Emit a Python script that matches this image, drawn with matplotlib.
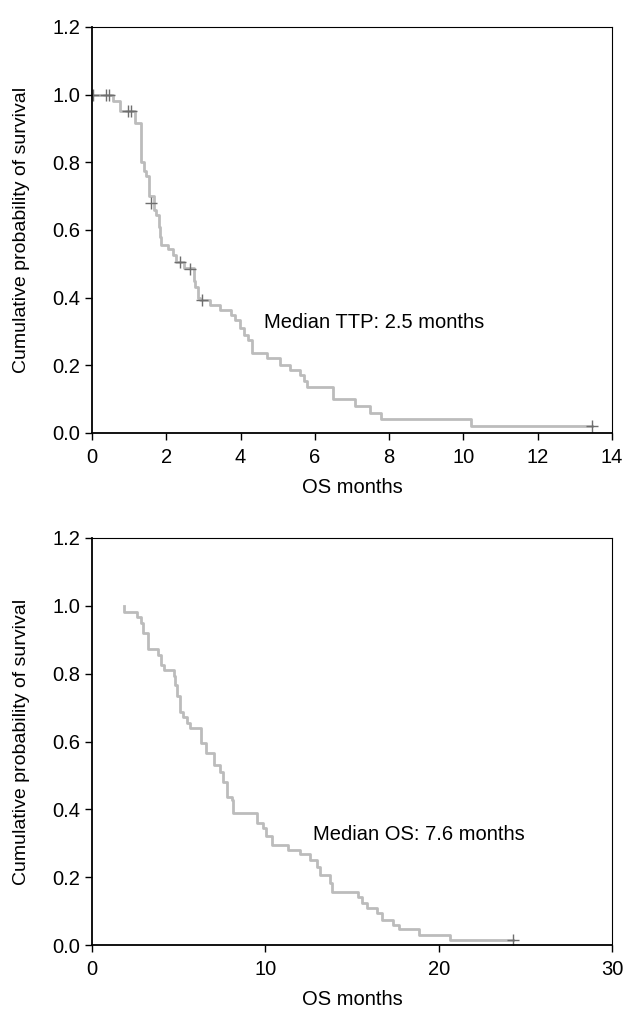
import matplotlib
matplotlib.use("Agg")
import matplotlib.pyplot as plt

plt.rcParams['font.family'] = ['Liberation Sans', 'DejaVu Sans']

# top panel: time to progression (KM steps)
ttp_t = [0, 0.56, 0.76, 1.17, 1.31, 1.33, 1.40, 1.46, 1.54, 1.66, 1.72, 1.80, 1.84, 1.87,
         2.05, 2.18, 2.25, 2.49, 2.74, 2.78, 2.85, 2.90, 3.17, 3.44, 3.75, 3.85, 3.98,
         4.10, 4.20, 4.32, 4.71, 5.05, 5.32, 5.60, 5.72, 5.80, 6.49, 7.07, 7.48, 7.78,
         10.2, 13.45]
ttp_s = [1.0, 0.98, 0.951, 0.917, 0.90, 0.80, 0.775, 0.76, 0.70, 0.66, 0.645, 0.61, 0.58, 0.555,
         0.545, 0.526, 0.506, 0.487, 0.45, 0.43, 0.40, 0.393, 0.378, 0.362, 0.348, 0.333, 0.309,
         0.29, 0.275, 0.235, 0.221, 0.20, 0.186, 0.17, 0.155, 0.137, 0.10, 0.08, 0.06, 0.04,
         0.02, 0.02]
ttp_cens_t = [0.02, 0.38, 0.47, 0.97, 1.06, 1.60, 2.36, 2.65, 2.95, 13.45]
ttp_cens_s = [1.0, 1.0, 1.0, 0.951, 0.951, 0.679, 0.506, 0.484, 0.393, 0.02]

# bottom panel: overall survival
os_t = [1.84, 1.84, 2.59, 2.80, 2.94, 3.23, 3.81, 3.96, 4.14, 4.71, 4.81, 4.91, 5.06, 5.25,
        5.48, 5.68, 6.28, 6.60, 7.05, 7.37, 7.53, 7.76, 8.05, 8.14, 9.53, 9.88, 10.03, 10.36,
        11.33, 12.0, 12.58, 12.97, 13.16, 13.74, 13.83, 15.37, 15.57, 15.86, 16.44, 16.73,
        17.36, 17.69, 18.88, 20.64, 24.3]
os_s = [1.0, 0.983, 0.968, 0.949, 0.919, 0.873, 0.855, 0.826, 0.811, 0.794, 0.767, 0.733, 0.688, 0.673,
        0.654, 0.639, 0.595, 0.565, 0.531, 0.511, 0.482, 0.437, 0.428, 0.388, 0.359, 0.344, 0.32, 0.295,
        0.28, 0.268, 0.251, 0.231, 0.206, 0.182, 0.157, 0.142, 0.123, 0.108, 0.094, 0.074,
        0.059, 0.047, 0.031, 0.015, 0.015]
os_cens_t = [24.3]
os_cens_s = [0.015]

line_col = "#bcbcbc"
mark_col = "#6e6e6e"
fs = 14.5

fig = plt.figure(figsize=(6.25, 10.09), dpi=100)
ax1 = fig.add_axes([0.1472, 0.5709, 0.832, 0.4024])
ax2 = fig.add_axes([0.1472, 0.0634, 0.832, 0.4034])


def style(ax, xmax, xticks):
    ax.set_xlim(0, xmax)
    ax.set_ylim(0, 1.2)
    ax.set_xticks(xticks)
    ax.set_xticklabels([str(v) for v in xticks])
    ax.set_yticks([0, 0.2, 0.4, 0.6, 0.8, 1.0, 1.2])
    ax.set_yticklabels(["0.0", "0.2", "0.4", "0.6", "0.8", "1.0", "1.2"])
    ax.tick_params(direction="out", length=5, width=1, labelsize=fs)
    ax.tick_params(axis="x", pad=6)
    ax.tick_params(axis="y", pad=3.5)
    ax.spines['left'].set_linewidth(1.3)
    ax.spines['bottom'].set_linewidth(1.3)
    ax.spines['top'].set_linewidth(0.8)
    ax.spines['right'].set_linewidth(0.8)
    ax.set_xlabel("OS months", fontsize=fs, va="center")
    ax.set_ylabel("Cumulative probability of survival", fontsize=fs - 0.5, va="center")
    ax.xaxis.set_label_coords(0.5, -0.135)
    ax.yaxis.set_label_coords(-0.135, 0.5)


ax1.step(ttp_t, ttp_s, where="post", color=line_col, lw=2.0)
ax1.plot(ttp_cens_t, ttp_cens_s, "+", color=mark_col, ms=8, mew=1.0)
ax1.text(4.62, 0.325, "Median TTP: 2.5 months", fontsize=fs, va="center", ha="left")
style(ax1, 14, [0, 2, 4, 6, 8, 10, 12, 14])

ax2.step(os_t, os_s, where="post", color=line_col, lw=2.0)
ax2.plot(os_cens_t, os_cens_s, "+", color=mark_col, ms=8, mew=1.0)
ax2.text(12.75, 0.325, "Median OS: 7.6 months", fontsize=fs, va="center", ha="left")
style(ax2, 30, [0, 10, 20, 30])

fig.savefig("out.png", dpi=100)
